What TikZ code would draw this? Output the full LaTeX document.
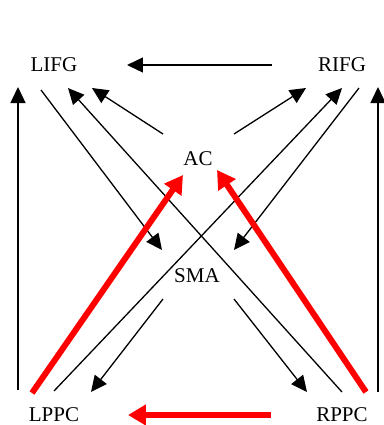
\documentclass[tikz,border=0pt]{standalone}
\usepackage{fontspec}
\setmainfont{Liberation Serif}
\usetikzlibrary{calc}
\usetikzlibrary{arrows.meta}
\tikzset{
  region/.style={inner sep=0pt, font=\fontsize{10.5}{12}\selectfont},
  link/.style={black, line width=.65pt, -{Triangle[length=8pt,width=7.5pt]}},
  strong/.style={red, line width=3pt, -{Triangle[length=9pt,width=10pt]}},
}
\begin{document}
\begin{tikzpicture}[x=.5pt,y=-.5pt]
\useasboundingbox (0,0) rectangle (384,425);
% regions
\node[region] (LIFG) at (54,65) {LIFG};
\node[region] (RIFG) at (342,65) {RIFG};
\node[region] (AC) at (198,159) {AC};
\node[region] (SMA) at (197,276) {SMA};
\node[region] (LPPC) at (54,415) {LPPC};
\node[region] (RPPC) at (342,415) {RPPC};
% frontal links
\draw[link] ($(RIFG)+(-70,0)$) -- ($(LIFG)+(73,0)$);
\draw[link] ($(LPPC)+(-36,-25)$) -- ($(LIFG)+(-36,22)$);
\draw[link] ($(RPPC)+(36,-23)$) -- ($(RIFG)+(36,22)$);
\draw[link] ($(AC)+(-35,-25)$) -- ($(LIFG)+(38,23)$);
\draw[link] ($(AC)+(36,-25)$) -- ($(RIFG)+(-36,23)$);
% crossing links
\draw[link] ($(LIFG)+(-13,25)$) -- ($(SMA)+(-35,-26)$);
\draw[link] ($(RIFG)+(17,23)$) -- ($(SMA)+(37,-26)$);
\draw[link] ($(RPPC)+(0,-23)$) -- ($(LIFG)+(14,23)$);
\draw[link] ($(LPPC)+(0,-24)$) -- ($(RIFG)+(0,23)$);
\draw[link] ($(SMA)+(-34,23)$) -- ($(LPPC)+(37,-23)$);
\draw[link] ($(SMA)+(37,23)$) -- ($(RPPC)+(-35,-23)$);
% strong links
\draw[strong] ($(LPPC)+(-22,-22)$) -- ($(AC)+(-15,16)$);
\draw[strong] ($(RPPC)+(24,-23)$) -- ($(AC)+(19,11)$);
\draw[strong] ($(RPPC)+(-71,0)$) -- ($(LPPC)+(74,0)$);
\end{tikzpicture}
\end{document}
